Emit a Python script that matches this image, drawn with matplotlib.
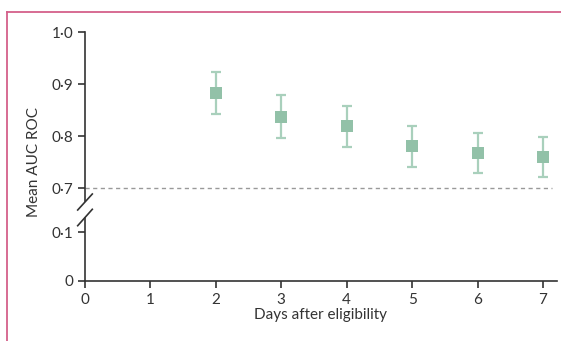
import matplotlib
matplotlib.use("Agg")
import matplotlib.pyplot as plt
from matplotlib.lines import Line2D

# data
days = [2, 3, 4, 5, 6, 7]
auc_mean = [0.883, 0.837, 0.819, 0.780, 0.767, 0.759]
auc_upper = [0.924, 0.879, 0.858, 0.820, 0.806, 0.799]
auc_lower = [0.843, 0.797, 0.779, 0.740, 0.728, 0.721]
x_ticks = [0, 1, 2, 3, 4, 5, 6, 7]
top_ticks = [0.7, 0.8, 0.9, 1.0]
top_labels = ["0·7", "0·8", "0·9", "1·0"]
bottom_ticks = [0, 0.1]
bottom_labels = ["0", "0·1"]

plt.rcParams['font.family'] = ['Lato', 'DejaVu Sans']
W, H = 561, 341
fig = plt.figure(figsize=(W / 100, H / 100), dpi=100)

def fx(px):
    return px / W

def fy(py):
    return 1 - py / H

text_c = "#333333"
marker_c = "#92c1a8"
err_c = "#a9d0bc"
fs = 11

# two stacked axes for the broken y axis
ax_top = fig.add_axes([fx(85), fy(201), fx(557) - fx(85), fy(32) - fy(201)])
ax_bot = fig.add_axes([fx(85), fy(281), fx(557) - fx(85), fy(218) - fy(281)])

err_lo = [m - l for m, l in zip(auc_mean, auc_lower)]
err_hi = [u - m for m, u in zip(auc_mean, auc_upper)]
ax_top.errorbar(days, auc_mean, yerr=[err_lo, err_hi], fmt="none",
                ecolor=err_c, elinewidth=1.6, capsize=3.8, capthick=1.6, zorder=2)
ax_top.plot(days, auc_mean, "s", color=marker_c, markersize=8,
            markeredgewidth=0, zorder=3)
ax_top.axhline(0.7, color="#999999", lw=1, ls=(0, (3, 2.5)), xmax=(552 - 85) / (557 - 85))

for ax in (ax_top, ax_bot):
    ax.set_xlim(0, 7.214)
    for s in ("top", "right"):
        ax.spines[s].set_visible(False)
    ax.spines["left"].set_color(text_c)
    ax.spines["left"].set_linewidth(1.2)
    ax.tick_params(colors=text_c, labelsize=fs, width=1.2, length=5)

ax_top.set_ylim(0.675, 1.0)
ax_top.set_yticks(top_ticks)
ax_top.set_yticklabels(top_labels)
ax_top.spines["bottom"].set_visible(False)
ax_top.tick_params(axis="x", bottom=False, labelbottom=False)

ax_bot.set_ylim(0, 0.1286)
ax_bot.set_yticks(bottom_ticks)
ax_bot.set_yticklabels(bottom_labels)
ax_bot.set_xticks(x_ticks)
ax_bot.spines["bottom"].set_color(text_c)
ax_bot.spines["bottom"].set_linewidth(1.2)
ax_bot.set_xlabel("Days after eligibility", fontsize=fs, color=text_c, labelpad=1)

# break marks
for y0, y1 in [(210, 194), (225.7, 209.3)]:
    fig.add_artist(Line2D([fx(77.7), fx(92.3)], [fy(y0), fy(y1)], color=text_c, lw=1.2))

fig.text(fx(34), fy(162), "Mean AUC ROC", rotation=90, ha="center", va="center",
         fontsize=fs, color=text_c)

# pink frame lines (top and left)
frame_c = "#d4608a"
fig.add_artist(Line2D([fx(7), 1], [fy(12), fy(12)], color=frame_c, lw=1.3))
fig.add_artist(Line2D([fx(7), fx(7)], [fy(12), 0], color=frame_c, lw=1.3))

fig.savefig("out.png", dpi=100)
